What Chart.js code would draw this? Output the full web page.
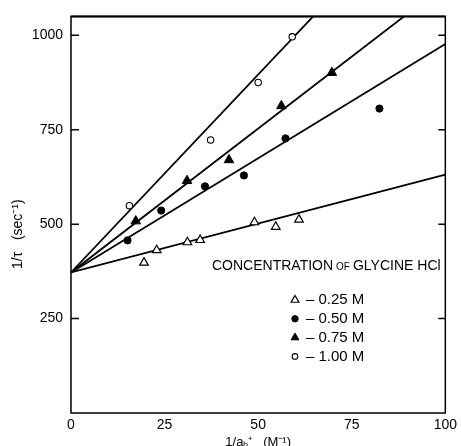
<!DOCTYPE html>
<html>
<head>
<meta charset="utf-8">
<script src="https://cdn.jsdelivr.net/npm/chart.js@4.4.1/dist/chart.umd.min.js"></script>
<style>
  html, body { margin: 0; padding: 0; background: #fff; }
  #wrap { width: 461px; height: 446px; }
</style>
</head>
<body>
<div id="wrap"><canvas id="chart"></canvas></div>
<script>
const xTicks = [0, 25, 50, 75, 100];
const yTicks = [250, 500, 750, 1000];

const seriesLabels = ['0.25 M', '0.50 M', '0.75 M', '1.00 M'];

// measured points: 1/aH+ (M^-1) against 1/tau (sec^-1)
const x025 = [19.5, 22.9, 31.1, 34.5, 49.0, 54.7, 60.9];
const y025 = [398, 431, 452, 458, 505, 493, 512];
const x050 = [15.1, 24.1, 35.8, 46.2, 57.3, 82.4];
const y050 = [457, 536, 600, 629, 727, 806];
const x075 = [17.3, 31.0, 42.2, 56.2, 69.7];
const y075 = [508, 615, 670, 813, 901];
const x100 = [15.6, 37.3, 50.0, 59.1];
const y100 = [549, 723, 875, 996];

// fitted lines, all through the same intercept; value at the right end
const fitX = [0, 100];
const fitIntercept = 372;
const fitEnd = [631, 977, 1134, 1420];

const FONT = "'Liberation Sans', Arial, sans-serif";

const pts = (xs, ys) => xs.map((x, i) => ({x: x, y: ys[i]}));

const markerStyles = [
    {pointStyle: 'triangle', radius: 5, backgroundColor: '#fff', borderColor: '#000', borderWidth: 1.2},
    {pointStyle: 'circle', radius: 3.6, backgroundColor: '#000', borderColor: '#000', borderWidth: 1},
    {pointStyle: 'triangle', radius: 5.5, backgroundColor: '#000', borderColor: '#000', borderWidth: 1},
    {pointStyle: 'circle', radius: 3.2, backgroundColor: '#fff', borderColor: '#000', borderWidth: 1.1}
];

const seriesData = [pts(x025, y025), pts(x050, y050), pts(x075, y075), pts(x100, y100)];

const datasets = [];
seriesData.forEach((d, i) => {
    const m = markerStyles[i];
    datasets.push({
        type: 'scatter',
        label: seriesLabels[i],
        data: d,
        order: 1,
        pointStyle: m.pointStyle,
        pointRadius: m.radius,
        pointBackgroundColor: m.backgroundColor,
        pointBorderColor: m.borderColor,
        pointBorderWidth: m.borderWidth
    });
});
fitEnd.forEach((end, i) => {
    datasets.push({
        type: 'line',
        label: 'fit ' + seriesLabels[i],
        data: [{x: fitX[0], y: fitIntercept}, {x: fitX[1], y: end}],
        order: 2,
        borderColor: '#000',
        borderWidth: 1.8,
        pointRadius: 0,
        fill: false
    });
});

// box round the plot, with short inward ticks on left and right
const framePlugin = {
    id: 'frame',
    afterDraw(chart) {
        const {ctx, chartArea: a, scales} = chart;
        ctx.save();
        ctx.strokeStyle = '#000';
        ctx.lineWidth = 1.5;
        ctx.strokeRect(a.left, a.top, a.right - a.left, a.bottom - a.top);
        ctx.lineWidth = 2;
        ctx.beginPath();
        ctx.moveTo(a.left, a.top);
        ctx.lineTo(a.right, a.top);
        ctx.stroke();
        ctx.lineWidth = 1.5;
        yTicks.forEach(v => {
            const y = scales.y.getPixelForValue(v);
            ctx.beginPath();
            ctx.moveTo(a.left, y);
            ctx.lineTo(a.left + 8, y);
            ctx.moveTo(a.right, y);
            ctx.lineTo(a.right - 7, y);
            ctx.stroke();
        });
        ctx.restore();
    }
};

// legend written inside the plot
const legendPlugin = {
    id: 'concLegend',
    afterDraw(chart) {
        const ctx = chart.ctx;
        ctx.save();
        ctx.fillStyle = '#000';
        ctx.textBaseline = 'middle';
        ctx.textAlign = 'left';
        let x = 212;
        const ty = 266;
        ctx.font = '14px ' + FONT;
        ctx.fillText('CONCENTRATION', x, ty);
        x += ctx.measureText('CONCENTRATION').width + 3;
        ctx.font = '10px ' + FONT;
        ctx.fillText('OF', x, ty + 1);
        x += ctx.measureText('OF').width + 3;
        ctx.font = '14px ' + FONT;
        ctx.fillText('GLYCINE HCl', x, ty);

        seriesLabels.forEach((lab, i) => {
            const y = 300 + i * 18.8;
            const m = markerStyles[i];
            ctx.fillStyle = m.backgroundColor;
            ctx.strokeStyle = m.borderColor;
            ctx.lineWidth = m.borderWidth;
            Chart.helpers.drawPoint(ctx, {
                pointStyle: m.pointStyle,
                radius: m.pointStyle === 'triangle' ? 4.5 : (i === 1 ? 3.2 : 2.8),
                rotation: 0,
                borderWidth: m.borderWidth
            }, 295, y);
            ctx.fillStyle = '#000';
            ctx.font = '15px ' + FONT;
            ctx.fillText('\u2013 ' + lab, 306, y);
        });
        ctx.restore();
    }
};

new Chart(document.getElementById('chart'), {
    data: {datasets: datasets},
    options: {
        responsive: true,
        maintainAspectRatio: false,
        animation: false,
        layout: {padding: {top: 15, right: 11, left: 0, bottom: 0}},
        plugins: {
            legend: {display: false},
            tooltip: {enabled: false}
        },
        scales: {
            x: {
                type: 'linear',
                min: 0,
                max: 100,
                afterBuildTicks: s => { s.ticks = xTicks.map(v => ({value: v})); },
                afterFit: s => { s.height = 33; },
                grid: {display: false, drawTicks: false, tickLength: 0},
                border: {display: false},
                ticks: {color: '#000', font: {family: FONT, size: 14}, padding: 4, maxRotation: 0},
                title: {
                    display: true,
                    text: '1/a\u2095\u207A   (M\u207B\u00B9)',
                    color: '#000',
                    font: {family: FONT, size: 13},
                    padding: {top: 0, bottom: -4}
                }
            },
            y: {
                type: 'linear',
                min: 0,
                max: 1050,
                afterBuildTicks: s => { s.ticks = yTicks.map(v => ({value: v})); },
                afterFit: s => { s.width = 71; },
                grid: {display: false, drawTicks: false, tickLength: 0},
                border: {display: false},
                ticks: {
                    color: '#000',
                    font: {family: FONT, size: 14},
                    padding: 8,
                    callback: v => String(v)
                },
                title: {
                    display: true,
                    text: '1/\u03C4   (sec\u207B\u00B9)          ',
                    color: '#000',
                    font: {family: FONT, size: 14},
                    padding: {top: 10, bottom: 0}
                }
            }
        }
    },
    plugins: [framePlugin, legendPlugin]
});
</script>
</body>
</html>
